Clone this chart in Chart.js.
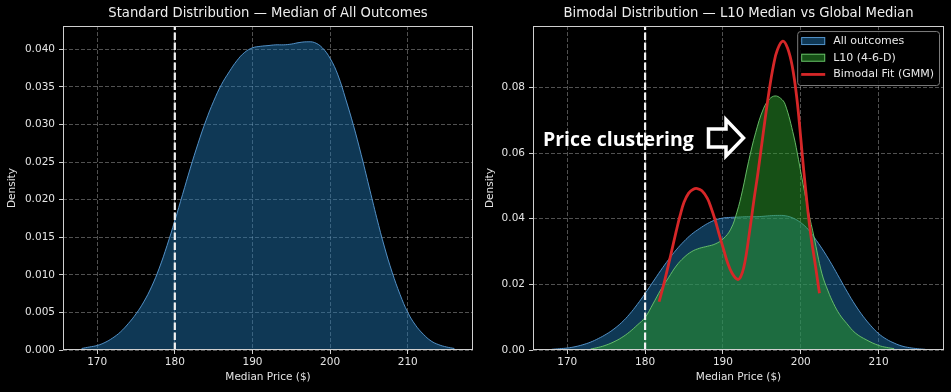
<!DOCTYPE html>
<html>
<head>
<meta charset="utf-8">
<script src="https://cdn.jsdelivr.net/npm/chart.js@4.4.1/dist/chart.umd.min.js"></script>
<style>
  html, body { margin: 0; padding: 0; background: #000; }
  body { width: 951px; height: 392px; position: relative; overflow: hidden; }
  canvas { position: absolute; top: 0; }
  #standard { left: 0; }
  #bimodal { left: 476px; }
</style>
</head>
<body>
<canvas id="standard" width="476" height="392"></canvas>
<canvas id="bimodal" width="475" height="392"></canvas>
<script>
// values
const globalMedian = 180

const priceGrid = [168, 169, 170, 171, 172, 173, 174, 175, 176, 177, 178, 179, 180, 181, 182, 183, 184, 185, 186, 187,
  188, 189, 190, 191, 192, 193, 194, 195, 196, 197, 198, 199, 200, 201, 202, 203, 204, 205, 206, 207,
  208, 209, 210, 211, 212, 213, 214, 215, 216]
const allDensity = [0.0002, 0.0004, 0.0006, 0.0010, 0.0016, 0.0024, 0.0035, 0.0048, 0.0064, 0.0084, 0.0109, 0.0139,
  0.0172, 0.0207, 0.0242, 0.0275, 0.0305, 0.0331, 0.0353, 0.0370, 0.0385, 0.0396, 0.0402, 0.0404, 0.0405, 0.0406,
  0.0406, 0.0407, 0.0409, 0.0410, 0.0409, 0.0402, 0.0388, 0.0366, 0.0334, 0.0299, 0.0260, 0.0218, 0.0176, 0.0137,
  0.0103, 0.0074, 0.0050, 0.0033, 0.0021, 0.0012, 0.0007, 0.0004, 0.0002]

const l10Price = [173, 174, 175, 176, 177, 178, 179, 180, 181, 182, 183, 184, 185, 186, 187, 188, 189, 190, 191,
  191.8, 192.5, 193.3, 194.2, 195.2, 196, 196.7, 197.4, 198, 199.1, 199.7, 200.3, 201, 201.7, 202.7, 203.5,
  204.2, 205, 205.9, 207, 208.5, 210, 211, 212]
const l10Density = [0.0003, 0.0008, 0.0015, 0.0025, 0.0038, 0.0055, 0.0076, 0.0099, 0.0140, 0.0183, 0.0220, 0.0256,
  0.0282, 0.0300, 0.0310, 0.0316, 0.0323, 0.0338, 0.0368, 0.0420, 0.0485, 0.0575, 0.0662, 0.0735, 0.0765, 0.0774,
  0.0767, 0.0748, 0.0652, 0.0581, 0.0505, 0.0420, 0.0345, 0.0234, 0.0180, 0.0142, 0.0108, 0.0081, 0.0052, 0.0030,
  0.0014, 0.0008, 0.0004]

const gmmPrice = [181.8, 182.5, 183.3, 184, 184.5, 185, 185.6, 186.2, 186.7, 187.3, 188, 188.5, 189, 189.5, 190.1,
  190.6, 191.2, 191.9, 192.3, 192.7, 193, 193.3, 193.7, 194, 194.5, 195.2, 195.9, 196.5, 197, 197.7, 198.3, 198.9,
  199.5, 200, 200.5, 201.2, 201.9, 202.4]
const gmmDensity = [0.0147, 0.0210, 0.0290, 0.0362, 0.0410, 0.0450, 0.0478, 0.0490, 0.0492, 0.0485, 0.0462, 0.0432,
  0.0396, 0.0354, 0.0305, 0.0266, 0.0233, 0.0215, 0.0224, 0.0254, 0.0292, 0.0340, 0.0408, 0.0460, 0.0540, 0.0665,
  0.0784, 0.0868, 0.0915, 0.0941, 0.0920, 0.0865, 0.0766, 0.0645, 0.0518, 0.0366, 0.0254, 0.0173]

const legendOrder = ['All outcomes', 'L10 (4-6-D)', 'Bimodal Fit (GMM)']
const noteText = 'Price clustering'

const xMin = 165.6, xMax = 218.4
const leftYMax = 0.0431, rightYMax = 0.0987

Chart.defaults.font.family = "'DejaVu Sans', sans-serif"
Chart.defaults.font.size = 10.5
Chart.defaults.color = '#e4e4e4'

const blueFill = 'rgba(31, 119, 180, 0.47)'
const blueEdge = 'rgba(85, 150, 205, 0.95)'
const greenFill = 'rgba(44, 160, 44, 0.5)'
const greenEdge = 'rgba(110, 200, 110, 0.9)'
const gmmRed = '#d62728'
const gridColor = 'rgba(255, 255, 255, 0.4)'

const toPoints = (xs, ys) => xs.map((x, i) => ({x: x, y: ys[i]}))

// full box around the plot like matplotlib spines
const frame = {
  id: 'frame',
  afterDatasetsDraw(chart) {
    const {ctx, chartArea: a} = chart
    const l = Math.round(a.left) + 0.5, t = Math.round(a.top) + 0.5
    const r = Math.round(a.right) - 0.5, b = Math.round(a.bottom) - 0.5
    ctx.save()
    ctx.strokeStyle = '#cfcfcf'
    ctx.lineWidth = 1
    ctx.strokeRect(l, t, r - l, b - t)
    ctx.restore()
  }
}

const legendBox = {
  id: 'legendBox',
  afterDraw(chart) {
    const {ctx, chartArea: a} = chart
    const sets = legendOrder.map(name => chart.data.datasets.find(d => d.label === name))
    ctx.save()
    ctx.font = "11px 'DejaVu Sans'"
    const textW = Math.max(...sets.map(d => ctx.measureText(d.label).width))
    const w = 4 + 24 + 8 + textW + 5
    const h = 54
    const left = a.right - 5 - w
    const top = a.top + 5
    ctx.beginPath()
    ctx.roundRect(left + 0.5, top + 0.5, w, h, 3)
    ctx.fillStyle = 'rgba(0, 0, 0, 0.85)'
    ctx.fill()
    ctx.strokeStyle = '#7c7c7c'
    ctx.lineWidth = 1
    ctx.stroke()
    sets.forEach((ds, i) => {
      const cy = top + 10 + i * 16.7
      const sx = left + 4
      if (ds.fill) {
        ctx.fillStyle = ds.backgroundColor
        ctx.fillRect(sx, cy - 4, 24, 8)
        ctx.strokeStyle = ds.borderColor
        ctx.lineWidth = 1
        ctx.strokeRect(sx + 0.5, cy - 3.5, 23, 7)
      } else {
        ctx.strokeStyle = ds.borderColor
        ctx.lineWidth = ds.borderWidth
        ctx.beginPath()
        ctx.moveTo(sx, cy)
        ctx.lineTo(sx + 24, cy)
        ctx.stroke()
      }
      ctx.fillStyle = '#e8e8e8'
      ctx.textBaseline = 'middle'
      ctx.fillText(ds.label, sx + 32, cy)
    })
    ctx.restore()
  }
}

const clusterNote = {
  id: 'clusterNote',
  afterDatasetsDraw(chart) {
    const {ctx, chartArea: a} = chart
    ctx.save()
    ctx.font = "bold 19.5px 'Open Sans'"
    ctx.fillStyle = '#ffffff'
    ctx.textBaseline = 'alphabetic'
    ctx.fillText(noteText, a.left + 10, a.top + 119.5)
    // hollow block arrow
    const ox = a.left, oy = a.top
    ctx.beginPath()
    ctx.moveTo(ox + 175.5, oy + 103)
    ctx.lineTo(ox + 193, oy + 103)
    ctx.lineTo(ox + 193, oy + 93.5)
    ctx.lineTo(ox + 210.5, oy + 112)
    ctx.lineTo(ox + 193, oy + 130)
    ctx.lineTo(ox + 193, oy + 121)
    ctx.lineTo(ox + 175.5, oy + 121)
    ctx.closePath()
    ctx.strokeStyle = '#ffffff'
    ctx.lineWidth = 3.5
    ctx.lineJoin = 'miter'
    ctx.stroke()
    ctx.restore()
  }
}

function makeScales(yMax, yStep, decimals, yWidth, yTitlePad) {
  return {
    x: {
      type: 'linear',
      min: xMin,
      max: xMax,
      ticks: { stepSize: 10, includeBounds: false, padding: 1.5, maxRotation: 0, color: '#e4e4e4' },
      grid: { color: gridColor, lineWidth: 0.8, tickLength: 4, tickColor: '#cfcfcf', tickWidth: 1, tickBorderDash: [] },
      border: { display: false, dash: [4, 2] },
      title: { display: true, text: 'Median Price ($)', color: '#e4e4e4', padding: { top: 0, bottom: 8 } },
      afterFit: s => { s.height = 42 }
    },
    y: {
      type: 'linear',
      min: 0,
      max: yMax,
      ticks: { stepSize: yStep, includeBounds: false, padding: 4, color: '#e4e4e4', callback: v => v.toFixed(decimals) },
      grid: { color: gridColor, lineWidth: 0.8, tickLength: 4, tickColor: '#cfcfcf', tickWidth: 1, tickBorderDash: [] },
      border: { display: false, dash: [4, 2] },
      title: { display: true, text: 'Density', color: '#e4e4e4', padding: { top: yTitlePad, bottom: 0 } },
      afterFit: s => { s.width = yWidth }
    }
  }
}

function medianLine(yMax) {
  return {
    label: 'Global median',
    data: toPoints([globalMedian, globalMedian], [0, yMax]),
    borderColor: '#f2f2f2',
    borderWidth: 2.2,
    borderDash: [7.5, 2.5],
    pointRadius: 0,
    fill: false,
    order: 0
  }
}

function allOutcomes() {
  return {
    label: 'All outcomes',
    data: toPoints(priceGrid, allDensity),
    borderColor: blueEdge,
    borderWidth: 1,
    backgroundColor: blueFill,
    fill: 'origin',
    pointRadius: 0,
    tension: 0.4,
    order: 3
  }
}

new Chart(document.getElementById('standard'), {
  type: 'line',
  data: { datasets: [medianLine(leftYMax), allOutcomes()] },
  options: {
    responsive: false,
    animation: false,
    layout: { padding: { left: 0, right: 3, top: 0, bottom: 0 } },
    scales: makeScales(leftYMax, 0.005, 3, 63, 6.4),
    plugins: {
      legend: { display: false },
      tooltip: { enabled: false },
      title: {
        display: true,
        text: 'Standard Distribution — Median of All Outcomes',
        color: '#eeeeee',
        fullSize: false,
        font: { size: 13.2, weight: 'normal' },
        padding: { top: 6, bottom: 4.2 }
      }
    }
  },
  plugins: [frame]
})

new Chart(document.getElementById('bimodal'), {
  type: 'line',
  data: {
    datasets: [
      medianLine(rightYMax),
      {
        label: 'Bimodal Fit (GMM)',
        data: toPoints(gmmPrice, gmmDensity),
        borderColor: gmmRed,
        borderWidth: 2.8,
        pointRadius: 0,
        fill: false,
        tension: 0.4,
        order: 1
      },
      {
        label: 'L10 (4-6-D)',
        data: toPoints(l10Price, l10Density),
        borderColor: greenEdge,
        borderWidth: 1,
        backgroundColor: greenFill,
        fill: 'origin',
        pointRadius: 0,
        tension: 0.4,
        order: 2
      },
      allOutcomes()
    ]
  },
  options: {
    responsive: false,
    animation: false,
    layout: { padding: { left: 0, right: 7, top: 0, bottom: 0 } },
    scales: makeScales(rightYMax, 0.02, 2, 57, 8.4),
    plugins: {
      legend: { display: false },
      tooltip: { enabled: false },
      title: {
        display: true,
        text: 'Bimodal Distribution — L10 Median vs Global Median',
        color: '#eeeeee',
        fullSize: false,
        font: { size: 13.2, weight: 'normal' },
        padding: { top: 6, bottom: 4.2 }
      }
    }
  },
  plugins: [frame, clusterNote, legendBox]
})
</script>
</body>
</html>
